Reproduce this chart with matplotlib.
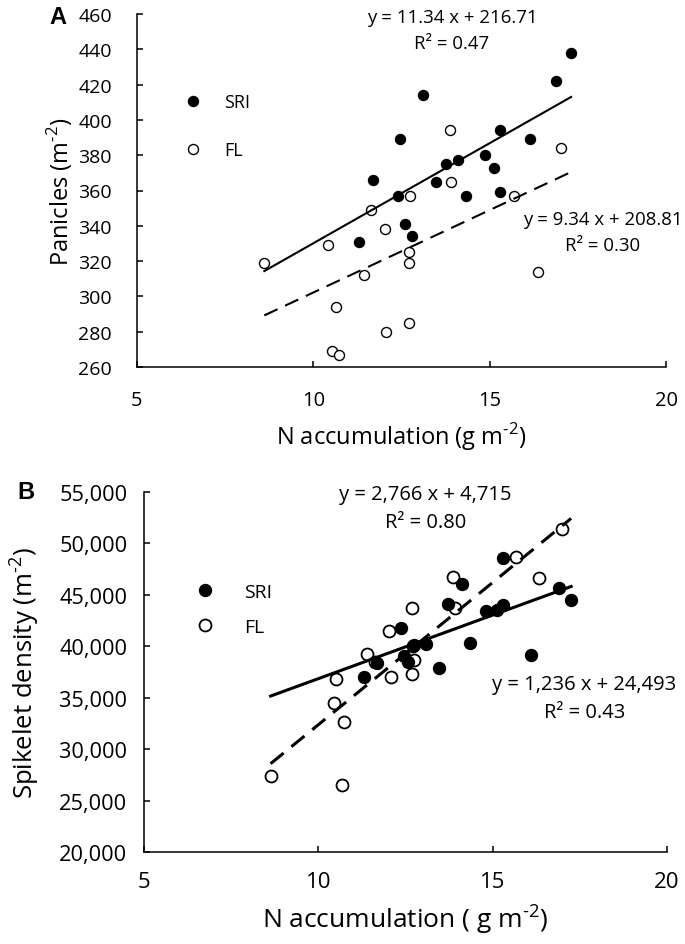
"""
N accumulation vs panicles and spikelet density, SRI vs FL
"""

import matplotlib
matplotlib.use("Agg")
import matplotlib.pyplot as plt
from matplotlib.ticker import StrMethodFormatter
import numpy as np

plt.rcParams["font.family"] = ["Open Sans", "DejaVu Sans"]
plt.rcParams["mathtext.fontset"] = "custom"
plt.rcParams["mathtext.rm"] = "Open Sans"

# panel A: panicles (m-2)
a_sri_x = [17.31, 16.89, 13.10, 12.46, 15.29, 16.14, 14.87, 15.13, 13.76,
           14.11, 11.70, 13.49, 14.33, 12.39, 15.29, 12.59, 12.79, 11.29]
a_sri_y = [438, 422, 414, 389, 394, 389, 380, 373, 375,
           377, 366, 365, 357, 357, 359, 341, 334, 331]
a_fl_x = [8.61, 10.43, 11.63, 12.04, 12.74, 13.88, 13.91, 15.69, 17.01,
          12.70, 12.72, 11.45, 16.36, 10.64, 12.07, 12.72, 10.53, 10.72]
a_fl_y = [319, 329, 349, 338, 357, 394, 365, 357, 384,
          325, 319, 312, 314, 294, 280, 285, 269, 267]
a_fit = {"SRI": (11.34, 216.71), "FL": (9.34, 208.81)}

# panel B: spikelet density (m-2)
b_sri_x = [15.29, 14.12, 16.89, 17.25, 13.72, 14.82, 15.12, 15.29, 12.36,
           12.74, 13.09, 14.34, 16.11, 11.67, 12.45, 12.57, 13.45, 11.31]
b_sri_y = [48600, 46100, 45700, 44500, 44100, 43400, 43500, 44000, 41800,
           40100, 40200, 40300, 39200, 38400, 39100, 38500, 37900, 37000]
b_fl_x = [17.00, 15.67, 13.85, 16.33, 13.91, 12.69, 12.03, 11.41, 12.74,
          12.09, 12.69, 10.50, 10.45, 10.73, 8.63, 10.67, 11.63, 12.72]
b_fl_y = [51400, 48700, 46700, 46600, 43700, 43700, 41450, 39250, 38700,
          37000, 37300, 36800, 34500, 32600, 27400, 26500, 38500, 40000]
b_fit = {"SRI": (1236, 24493), "FL": (2766, 4715)}

W, H = 685, 945
SUP = r"$^{\text{-2}}$"


def fx(px):
    return px / W


def fy(py):
    return 1 - py / H


def style_axes(ax, lw_spine, xsize, ysize, xpad, ypad):
    for s in ["top", "right"]:
        ax.spines[s].set_visible(False)
    for s in ["left", "bottom"]:
        ax.spines[s].set_linewidth(lw_spine)
    ax.tick_params(direction="in", length=4.5, width=lw_spine)
    ax.tick_params(axis="x", pad=xpad, labelsize=xsize)
    ax.tick_params(axis="y", pad=ypad, labelsize=ysize)
    ax.set_xlim(5, 20)
    ax.set_xticks([5, 10, 15, 20])


def draw_panel(ax, sx, sy, fx_, fy_, fit, ms, mew, lw, dashes):
    ax.plot(fx_, fy_, "o", mfc="white", mec="black", mew=mew, ms=ms,
            label="FL", zorder=3, clip_on=False)
    ax.plot(sx, sy, "o", mfc="black", mec="black", ms=ms,
            label="SRI", zorder=4, clip_on=False)
    allx = np.concatenate([sx, fx_])
    xl = np.array([allx.min(), allx.max()])
    ax.plot(xl, fit["SRI"][0] * xl + fit["SRI"][1], "-", color="black",
            lw=lw, zorder=5)
    ax.plot(xl, fit["FL"][0] * xl + fit["FL"][1], "--", color="black",
            lw=lw, dashes=dashes, zorder=5)


fig = plt.figure(figsize=(6.85, 9.45), dpi=100)

# ---- panel A
ax1 = fig.add_axes([fx(137), fy(368), (666 - 137) / W, (368 - 15) / H])
draw_panel(ax1, np.array(a_sri_x), np.array(a_sri_y), np.array(a_fl_x),
           np.array(a_fl_y), a_fit, ms=7.2, mew=1.0, lw=1.5, dashes=(7, 4))
style_axes(ax1, 1.1, 14.5, 14, xpad=16.5, ypad=18)
ax1.set_ylim(260, 460)
ax1.set_yticks(np.arange(260, 461, 20))
ax1.set_ylabel("Panicles (m" + SUP + ")", fontsize=17, labelpad=2)
ax1.set_xlabel("N accumulation (g m" + SUP + ")", fontsize=17, labelpad=7)
h, l = ax1.get_legend_handles_labels()
ax1.legend(h[::-1], l[::-1], frameon=False, fontsize=13, loc="upper left",
           bbox_to_anchor=(0.059, 0.822), handlelength=1.0, handletextpad=1.2,
           labelspacing=1.65)

fig.text(fx(452), fy(18), "y = 11.34 x + 216.71", ha="center", va="center",
         fontsize=13.4)
fig.text(fx(452), fy(44), "R² = 0.47", ha="center", va="center",
         fontsize=13.4)
fig.text(fx(603), fy(220), "y = 9.34 x + 208.81", ha="center", va="center",
         fontsize=13.4)
fig.text(fx(603), fy(246), "R² = 0.30", ha="center", va="center",
         fontsize=13.4)
fig.text(fx(58), fy(18), "A", ha="center", va="center", fontsize=17,
         fontweight="bold", family="Liberation Sans")

# ---- panel B
ax2 = fig.add_axes([fx(144), fy(853), (667 - 144) / W, (853 - 493) / H])
draw_panel(ax2, np.array(b_sri_x), np.array(b_sri_y), np.array(b_fl_x),
           np.array(b_fl_y), b_fit, ms=8.6, mew=1.3, lw=2.2,
           dashes=(5.5, 3.3))
style_axes(ax2, 1.1, 16, 15.7, xpad=14, ypad=12)
ax2.set_ylim(20000, 55000)
ax2.set_yticks(np.arange(20000, 55001, 5000))
ax2.yaxis.set_major_formatter(StrMethodFormatter("{x:,.0f}"))
ax2.set_ylabel("Spikelet density (m" + SUP + ")", fontsize=18.5, labelpad=13)
ax2.set_xlabel("N accumulation ( g m" + SUP + ")", fontsize=19, labelpad=6)
h, l = ax2.get_legend_handles_labels()
ax2.legend(h[::-1], l[::-1], frameon=False, fontsize=14, loc="upper left",
           bbox_to_anchor=(0.065, 0.797), handlelength=1.0, handletextpad=1.5,
           labelspacing=0.9)

fig.text(fx(425), fy(495), "y = 2,766 x + 4,715", ha="center", va="center",
         fontsize=14.5)
fig.text(fx(426), fy(523), "R² = 0.80", ha="center", va="center",
         fontsize=14.5)
fig.text(fx(584), fy(685), "y = 1,236 x + 24,493", ha="center", va="center",
         fontsize=14.5)
fig.text(fx(585), fy(713), "R² = 0.43", ha="center", va="center",
         fontsize=14.5)
fig.text(fx(26), fy(493), "B", ha="center", va="center", fontsize=17,
         fontweight="bold", family="Liberation Sans")

fig.savefig("out.png", dpi=100)
